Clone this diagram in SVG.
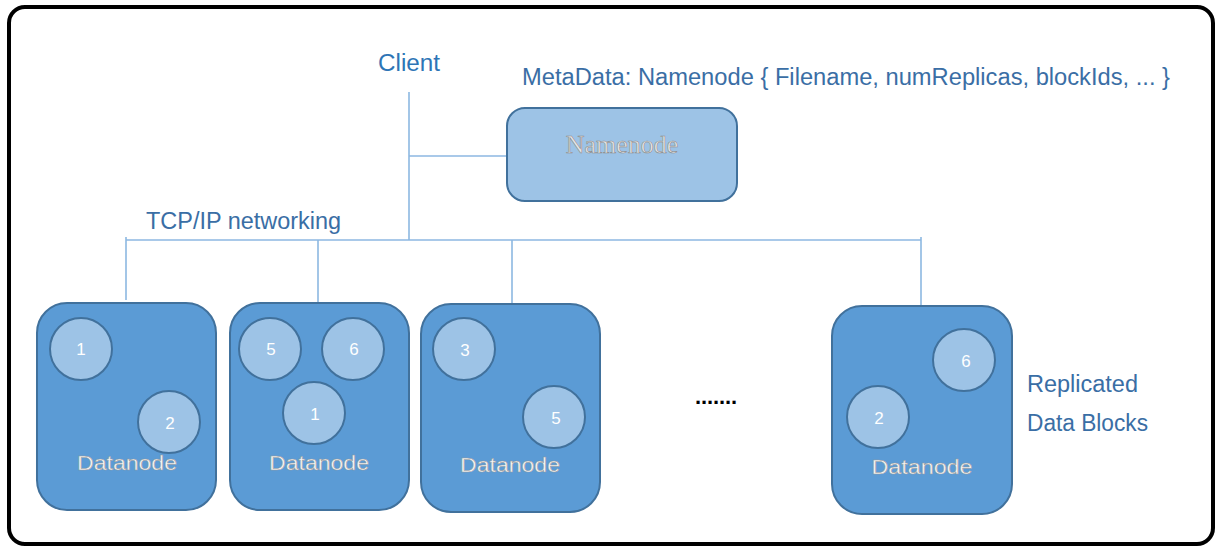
<svg xmlns="http://www.w3.org/2000/svg" width="1219" height="547" viewBox="0 0 1219 547">
<style>
.lbl{font-family:"Liberation Sans",Arial,sans-serif;fill:#3A6EA5;font-size:23px}
.conn{stroke:#8DB8E2;stroke-width:1.6;fill:none}
.dn{fill:#5B9BD5;stroke:#41719C;stroke-width:2}
.blk{fill:#9DC3E6;stroke:#41719C;stroke-width:2}
.num{font-family:"Liberation Sans",Arial,sans-serif;font-size:17px;fill:#FFFFFF;text-anchor:middle}
.dnt{font-family:"Liberation Sans",Arial,sans-serif;font-size:21px;fill:#F7F7F7;stroke:#9A9A9A;stroke-width:0.5;text-anchor:middle}
</style>
<rect x="0" y="0" width="1219" height="547" fill="#FFFFFF"/>
<rect x="9" y="7" width="1204" height="537" rx="16" fill="#FFFFFF" stroke="#000000" stroke-width="4"/>
<g id="connectors">
<path class="conn" d="M409 92 V240 M409 156 H507 M126 240 H921 M126 240 V300 M318 240 V303 M512 240 V303 M921 240 V306 M126 237 V243 M921 237 V243"/>
</g>
<g id="client">
<text x="378" y="71" class="lbl" style="fill:#2E75B6" textLength="62" lengthAdjust="spacingAndGlyphs">Client</text>
</g>
<g id="metadata">
<text x="522" y="85" class="lbl" textLength="648" lengthAdjust="spacingAndGlyphs">MetaData: Namenode  { Filename, numReplicas, blockIds, ... }</text>
</g>
<g id="namenode">
<rect x="507" y="108" width="230" height="93" rx="18" fill="#9DC3E6" stroke="#41719C" stroke-width="2"/>
<text x="622" y="153" font-family="'Liberation Serif','Times New Roman',serif" font-size="26" fill="#E6E6E6" stroke="#8C8C8C" stroke-width="0.6" text-anchor="middle">Namenode</text>
</g>
<g id="network">
<text x="146" y="229" class="lbl" textLength="195" lengthAdjust="spacingAndGlyphs">TCP/IP networking</text>
</g>
<g id="datanode1">
<rect class="dn" x="37" y="303" width="179" height="207" rx="30"/>
<circle class="blk" cx="81" cy="349" r="31"/>
<text class="num" x="81" y="355">1</text>
<circle class="blk" cx="169" cy="422" r="31"/>
<text class="num" x="170" y="429">2</text>
<text class="dnt" x="127" y="470" textLength="100" lengthAdjust="spacingAndGlyphs">Datanode</text>
</g>
<g id="datanode2">
<rect class="dn" x="230" y="303" width="179" height="207" rx="30"/>
<circle class="blk" cx="270" cy="349" r="31"/>
<text class="num" x="271" y="355">5</text>
<circle class="blk" cx="353" cy="349" r="31"/>
<text class="num" x="354" y="355">6</text>
<circle class="blk" cx="314" cy="413" r="31"/>
<text class="num" x="315" y="420">1</text>
<text class="dnt" x="319" y="470" textLength="100" lengthAdjust="spacingAndGlyphs">Datanode</text>
</g>
<g id="datanode3">
<rect class="dn" x="421" y="304" width="179" height="208" rx="30"/>
<circle class="blk" cx="464" cy="349" r="31"/>
<text class="num" x="465" y="356">3</text>
<circle class="blk" cx="554" cy="417" r="31"/>
<text class="num" x="556" y="424">5</text>
<text class="dnt" x="510" y="472" textLength="100" lengthAdjust="spacingAndGlyphs">Datanode</text>
</g>
<g id="ellipsis">
<text x="695" y="404" font-family="'Liberation Sans',Arial,sans-serif" font-size="22" font-weight="bold" fill="#000000" textLength="42" lengthAdjust="spacing">.......</text>
</g>
<g id="datanode4">
<rect class="dn" x="832" y="306" width="180" height="208" rx="30"/>
<circle class="blk" cx="964" cy="360" r="31"/>
<text class="num" x="966" y="367">6</text>
<circle class="blk" cx="878" cy="417" r="31"/>
<text class="num" x="879" y="424">2</text>
<text class="dnt" x="922" y="474" textLength="101" lengthAdjust="spacingAndGlyphs">Datanode</text>
</g>
<g id="replicated">
<text x="1027" y="392" class="lbl" textLength="111" lengthAdjust="spacingAndGlyphs">Replicated</text>
<text x="1027" y="431" class="lbl" textLength="121" lengthAdjust="spacingAndGlyphs">Data Blocks</text>
</g>
</svg>
